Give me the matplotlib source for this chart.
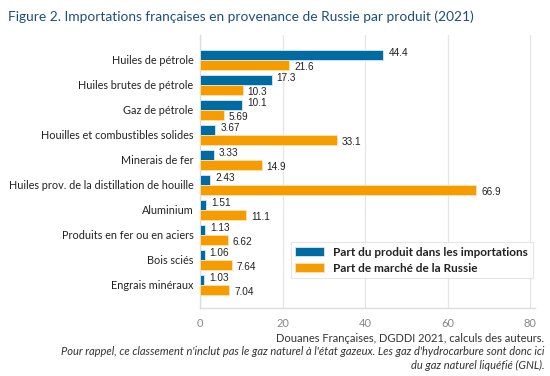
import numpy as np
import matplotlib.pyplot as plt

produits = ['Huiles de pétrole', 'Huiles brutes de pétrole', 'Gaz de pétrole',
            'Houilles et combustibles solides', 'Minerais de fer',
            'Huiles prov. de la distillation de houille', 'Aluminium',
            'Produits en fer ou en aciers', 'Bois sciés', 'Engrais minéraux']
part_importations = [44.4, 17.3, 10.1, 3.67, 3.33, 2.43, 1.51, 1.13, 1.06, 1.03]
part_marche = [21.6, 10.3, 5.69, 33.1, 14.9, 66.9, 11.1, 6.62, 7.64, 7.04]
labels_imp = ['44.4', '17.3', '10.1', '3.67', '3.33', '2.43', '1.51', '1.13', '1.06', '1.03']
labels_mar = ['21.6', '10.3', '5.69', '33.1', '14.9', '66.9', '11.1', '6.62', '7.64', '7.04']

bleu = '#006aa3'
orange = '#f59c00'

plt.rcParams['font.family'] = ['Lato', 'DejaVu Sans']

fig = plt.figure(figsize=(5.5, 3.76), dpi=100)
ax = fig.add_axes([0.364, 0.181, 0.609, 0.726])

y = np.arange(len(produits))
h = 0.4
ax.barh(y - h / 2, part_importations, height=h, color=bleu, edgecolor='#dbe8f0',
        linewidth=0.6, label='Part du produit dans les importations', zorder=3)
ax.barh(y + h / 2, part_marche, height=h, color=orange, edgecolor='#fbe3b5',
        linewidth=0.6, label='Part de marché de la Russie', zorder=3)

for i in range(len(produits)):
    ax.text(part_importations[i] + 1.2, y[i] - h / 2 - 0.07, labels_imp[i],
            fontsize=7.2, family='Liberation Sans', color='#222222', va='center')
    ax.text(part_marche[i] + 1.2, y[i] + h / 2 + 0.07, labels_mar[i],
            fontsize=7.2, family='Liberation Sans', color='#222222', va='center')

ax.set_yticks(y)
ax.set_yticklabels(produits, fontsize=7.85, color='#222222')
ax.set_ylim(9.92, -1.0)
ax.set_xlim(0, 81.2)
ax.set_xticks([0, 20, 40, 60, 80])
ax.tick_params(axis='x', labelsize=8, colors='#888888', length=0, pad=7)
ax.tick_params(axis='y', length=0, pad=5)
ax.grid(axis='x', color='#e6e6e6', linewidth=0.9, zorder=0)
for s in ['top', 'right']:
    ax.spines[s].set_visible(False)
for s in ['left', 'bottom']:
    ax.spines[s].set_color('#dddddd')
    ax.spines[s].set_linewidth(1.0)

leg = ax.legend(loc='lower right', bbox_to_anchor=(1.0, 0.10),
                prop={'weight': 'bold', 'size': 8.5}, frameon=True, fancybox=False,
                handlelength=2.4, handleheight=0.8, borderpad=0.4, labelspacing=0.4,
                borderaxespad=0.2)
leg.get_frame().set_edgecolor('#e0e0e0')
leg.get_frame().set_linewidth(0.8)
for t in leg.get_texts():
    t.set_color('#222222')

fig.text(0.015, 0.955, 'Figure 2. Importations françaises en provenance de Russie par produit (2021)',
         fontsize=9.9, color='#1d4f7c', va='center')
fig.text(0.99, 0.099, 'Douanes Françaises, DGDDI 2021, calculs des auteurs.',
         fontsize=8, color='#333333', ha='right', va='center')
fig.text(0.99, 0.064, "Pour rappel, ce classement n'inclut pas le gaz naturel à l'état gazeux. Les gaz d'hydrocarbure sont donc ici",
         fontsize=8, color='#333333', ha='right', va='center', style='italic')
fig.text(0.99, 0.029, 'du gaz naturel liquéfié (GNL).',
         fontsize=8, color='#333333', ha='right', va='center', style='italic')

fig.savefig('out.png', dpi=100)
